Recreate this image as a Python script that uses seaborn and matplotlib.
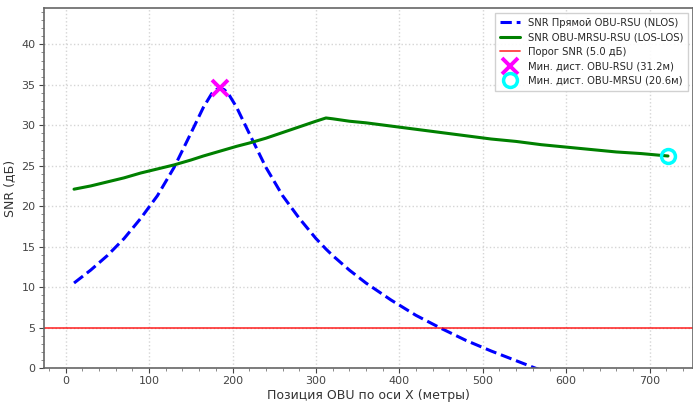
import matplotlib
matplotlib.use("Agg")
import matplotlib.pyplot as plt
import seaborn as sns
import pandas as pd

x_pos = [10, 30, 50, 70, 90, 110, 130, 150, 165, 175, 180, 185, 190, 195, 205, 220,
         240, 260, 280, 300, 312, 320, 340, 360, 390, 420, 450, 480, 510, 540, 570,
         600, 630, 660, 690, 722]
snr_nlos = [10.5, 12.1, 13.9, 16.0, 18.5, 21.3, 24.8, 29.0, 32.2, 33.9, 34.4, 34.6,
            34.4, 33.9, 32.2, 29.0, 24.8, 21.3, 18.5, 16.0, 14.7, 13.9, 12.1, 10.5,
            8.4, 6.5, 4.9, 3.4, 2.1, 0.9, -0.3, -1.3, -2.3, -3.2, -4.0, -4.8]
snr_relay = [22.1, 22.5, 23.0, 23.5, 24.1, 24.6, 25.1, 25.7, 26.2, 26.5, 26.65, 26.8,
             26.95, 27.1, 27.4, 27.8, 28.4, 29.1, 29.8, 30.5, 30.9, 30.8, 30.5, 30.3,
             29.9, 29.5, 29.1, 28.7, 28.3, 28.0, 27.6, 27.3, 27.0, 26.7, 26.5, 26.2]
snr_threshold = 5.0
min_rsu = (185, 34.6)
min_mrsu = (722, 26.2)

label_nlos = "SNR Прямой OBU-RSU (NLOS)"
label_relay = "SNR OBU-MRSU-RSU (LOS-LOS)"
label_thr = "Порог SNR (5.0 дБ)"
label_min_rsu = "Мин. дист. OBU-RSU (31.2м)"
label_min_mrsu = "Мин. дист. OBU-MRSU (20.6м)"

sns.set_style("ticks")
df = pd.DataFrame({"x": x_pos, "nlos": snr_nlos, "relay": snr_relay})

fig = plt.figure(figsize=(6.93, 4.05), dpi=100)
ax = fig.add_axes([0.0635, 0.0914, 0.9365, 0.889])

sns.lineplot(data=df, x="x", y="nlos", ax=ax, color="blue", linestyle="--",
             linewidth=2.2, label=label_nlos)
sns.lineplot(data=df, x="x", y="relay", ax=ax, color="green", linewidth=2.2,
             label=label_relay)
ax.axhline(snr_threshold, color="red", linewidth=1.3, alpha=0.75, label=label_thr)
ax.plot([min_rsu[0]], [min_rsu[1]], linestyle="none", marker="x", color="magenta",
        markersize=11, markeredgewidth=2.8, label=label_min_rsu)
ax.plot([min_mrsu[0]], [min_mrsu[1]], linestyle="none", marker="o",
        markerfacecolor="none", markeredgecolor="cyan", markersize=10,
        markeredgewidth=2.5, label=label_min_mrsu)

ax.set_xlim(-26, 752)
ax.set_ylim(0, 44.5)
ax.set_xticks([0, 100, 200, 300, 400, 500, 600, 700])
ax.set_yticks([0, 5, 10, 15, 20, 25, 30, 35, 40])
ax.minorticks_on()
ax.grid(True, which="major", linestyle=":", color="#d5d5d5", linewidth=1.0)
ax.tick_params(axis="both", which="major", labelsize=8, colors="#444444", length=3.5,
               pad=2.5)
ax.tick_params(axis="both", which="minor", colors="#777777", length=2)
for s in ax.spines.values():
    s.set_color("#666666")
    s.set_linewidth(1.2)

ax.set_xlabel("Позиция OBU по оси X (метры)", fontsize=9, color="#333333", labelpad=2)
ax.set_ylabel("SNR (дБ)", fontsize=9, color="#333333", labelpad=4)

ax.legend(loc="upper right", fontsize=7.2, frameon=True, framealpha=0.9,
          edgecolor="#cccccc", fancybox=False, borderpad=0.5, labelspacing=0.45,
          handlelength=2.0)

fig.savefig("out.png", dpi=100)
